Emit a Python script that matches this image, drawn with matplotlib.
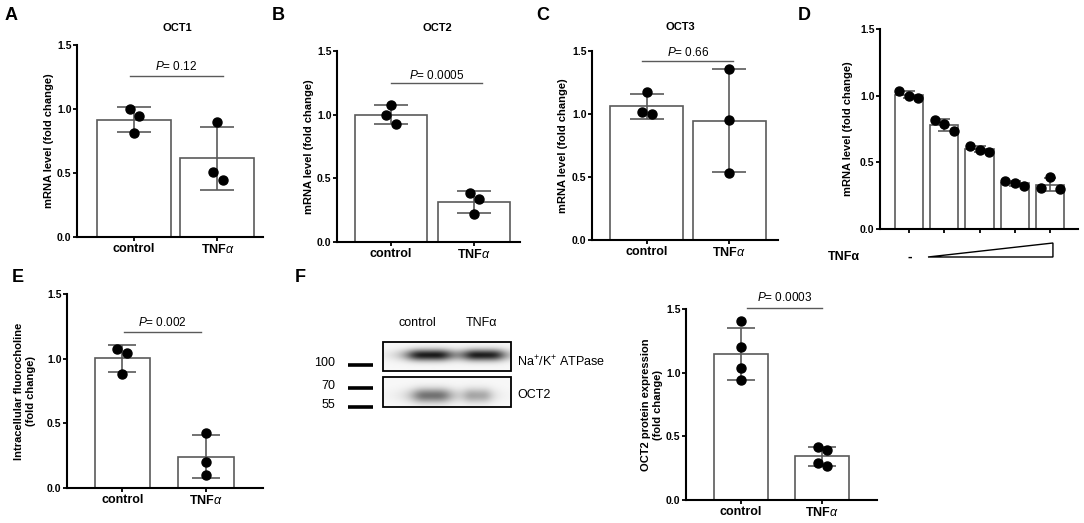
import numpy as np
import matplotlib
matplotlib.use('Agg')
import matplotlib.pyplot as plt
from matplotlib.patches import Rectangle, Polygon
from matplotlib.ticker import FormatStrFormatter

plt.rcParams['font.family'] = ['Liberation Sans', 'DejaVu Sans']
plt.rcParams['mathtext.fontset'] = 'custom'
plt.rcParams['mathtext.rm'] = 'Liberation Sans'
plt.rcParams['mathtext.it'] = 'Liberation Sans:italic'
plt.rcParams['mathtext.bf'] = 'Liberation Sans:bold'

# ---- data ----
groups = ['control', 'TNF$\\alpha$']

oct1_control = [1.00, 0.943, 0.81]
oct1_tnf = [0.898, 0.505, 0.443]
oct2_control = [1.076, 1.00, 0.927]
oct2_tnf = [0.382, 0.34, 0.217]
oct3_control = [1.172, 1.013, 0.997]
oct3_tnf = [1.357, 0.952, 0.534]

# panel D: increasing TNFa doses
dose_values = [
    [1.035, 1.00, 0.985],
    [0.815, 0.79, 0.733],
    [0.623, 0.59, 0.58],
    [0.36, 0.343, 0.323],
    [0.31, 0.39, 0.298],
]

uptake_control = [1.077, 1.046, 0.884]
uptake_tnf = [0.423, 0.201, 0.098]
protein_control = [1.404, 1.20, 1.04, 0.942]
protein_tnf = [0.42, 0.391, 0.289, 0.268]

p_values = {'A': '0.12', 'B': '0.0005', 'C': '0.66', 'E': '0.002', 'F': '0.0003'}

# western blot band intensities (0 = blank, 1 = black)
blot_lanes = ['control', 'TNF\u03b1']
nak_band = [0.85, 0.83]
oct2_band = [0.52, 0.30]
ladder_kda = ['100', '70', '55']

W, H = 1084, 523
EDGE = '#5a5a5a'
fig = plt.figure(figsize=(W / 100, H / 100), dpi=100)


def add_ax(l, t, r, b):
    return fig.add_axes([l / W, 1 - b / H, (r - l) / W, (b - t) / H])


def ftext(x, y, s, **kw):
    fig.text(x / W, 1 - y / H, s, **kw)


def style_axis(ax, rect, ylabel, ylabel_x):
    ax.set_ylim(0, 1.5)
    ax.set_yticks([0, 0.5, 1.0, 1.5])
    ax.yaxis.set_major_formatter(FormatStrFormatter('%.1f'))
    for side in ('top', 'right'):
        ax.spines[side].set_visible(False)
    for side in ('left', 'bottom'):
        ax.spines[side].set_linewidth(1.5)
    ax.tick_params(axis='both', direction='out', length=3, width=1.3, pad=1)
    for lab in ax.get_yticklabels():
        lab.set_fontweight('bold')
        lab.set_fontsize(7.5)
    ax.set_ylabel(ylabel, fontsize=8, fontweight='bold', linespacing=1.3,
                  va='center')
    ax.yaxis.set_label_coords((ylabel_x - rect[0]) / (rect[2] - rect[0]), 0.5)
    ax.set_facecolor('none')


def bar_panel(rect, xlim, vals, width, capsize, jitter, ylabel, ylabel_x):
    ax = add_ax(*rect)
    x = np.arange(len(vals))
    means = [np.mean(v) for v in vals]
    sds = [np.std(v, ddof=1) for v in vals]
    ax.bar(x, means, width, color='white', edgecolor=EDGE, linewidth=1.2, zorder=1)
    ax.errorbar(x, means, yerr=sds, fmt='none', ecolor=EDGE, elinewidth=1.2,
                capsize=capsize, capthick=1.2, zorder=2)
    for i, v in enumerate(vals):
        ax.plot(i + np.array(jitter[i]), v, 'o', color='black', ms=6.5,
                zorder=3, clip_on=False)
    ax.set_xlim(*xlim)
    ax.set_xticks(x)
    style_axis(ax, rect, ylabel, ylabel_x)
    return ax


def two_group(rect, xlim, ctrl, tnf, width, capsize, jitter, ylabel, ylabel_x,
              pkey, pline, ptext_y):
    ax = bar_panel(rect, xlim, [ctrl, tnf], width, capsize, jitter, ylabel, ylabel_x)
    ax.set_xticklabels(groups, fontsize=9, fontweight='bold')
    x0, x1, yl = pline
    ax.plot([x0, x1], [yl, yl], color=EDGE, lw=1.0, clip_on=False)
    ax.text((x0 + x1) / 2, ptext_y, '$P$= ' + p_values[pkey], ha='center',
            va='center', fontsize=8.5, clip_on=False)
    return ax


mrna = 'mRNA level (fold change)'

# A - OCT1
two_group((77, 45, 263, 237), (-0.68, 1.545), oct1_control, oct1_tnf, 0.885, 12,
          [[-0.05, 0.06, 0.0], [0.0, -0.055, 0.065]], mrna, 49,
          'A', (-0.05, 1.07, 1.258), 1.33)
# B - OCT2
two_group((337, 51, 520, 242), (-0.655, 1.56), oct2_control, oct2_tnf, 0.87, 12,
          [[0.0, -0.06, 0.06], [-0.05, 0.06, 0.0]], mrna, 309,
          'B', (0.0, 1.1, 1.246), 1.31)
# C - OCT3
two_group((592, 51, 778, 240), (-0.66, 1.59), oct3_control, oct3_tnf, 0.88, 12,
          [[0.0, -0.06, 0.07], [0.0, 0.0, 0.0]], mrna, 563,
          'C', (-0.05, 1.05, 1.423), 1.49)

# D - dose response
rect_d = (880, 29, 1078, 229)
ax_d = bar_panel(rect_d, (-0.82, 4.79), dose_values, 0.8, 4.5,
                 [[-0.27, 0.0, 0.27]] * len(dose_values), mrna, 848)
ax_d.set_xticklabels([])
ax_d.add_patch(Polygon([[0.54, -0.21], [4.08, -0.105], [4.08, -0.21]], closed=True,
                       facecolor='white', edgecolor='black', lw=1.0, clip_on=False))
ax_d.text(-1.84, -0.21, 'TNF\u03b1', ha='center', va='center', fontsize=9,
          fontweight='bold', clip_on=False)
ax_d.text(0.03, -0.21, '-', ha='center', va='center', fontsize=10,
          fontweight='bold', clip_on=False)

# E - fluorocholine uptake
two_group((67, 294, 263, 488), (-0.66, 1.68), uptake_control, uptake_tnf, 0.66, 10,
          [[-0.06, 0.06, 0.0], [0.0, 0.0, 0.0]],
          'Intracellular fluorocholine\n(fold change)', 25,
          'E', (0.02, 0.94, 1.206), 1.276)

# F - OCT2 protein quantification
two_group((686, 309, 877, 500), (-0.68, 1.68), protein_control, protein_tnf, 0.67, 10,
          [[0.0, 0.0, 0.0, 0.0], [-0.05, 0.06, -0.05, 0.06]],
          'OCT2 protein expression\n(fold change)', 652,
          'F', (0.07, 1.0, 1.509), 1.59)

# F - western blot
ax_b = add_ax(240, 300, 640, 420)
ax_b.set_xlim(240, 640)
ax_b.set_ylim(420, 300)
ax_b.axis('off')


def band_image(intens, centers, halfw, yc, sig, ny):
    xs = np.linspace(0, 1, 256)
    ys = np.linspace(0, 1, ny)[:, None]
    img = np.full((ny, xs.size), 0.03)
    for amp, c, hw in zip(intens, centers, halfw):
        fx = 1.0 / (1.0 + ((xs - c) / hw) ** 4)
        fy = np.exp(-0.5 * ((ys - yc) / sig) ** 2)
        img += amp * fx[None, :] * fy
    return np.clip(img, 0, 1)


boxes = [(342, 371, nak_band, [0.36, 0.79], [0.17, 0.16], 0.45, 0.14),
         (377, 407, oct2_band, [0.38, 0.74], [0.15, 0.11], 0.62, 0.17)]
for top, bot, inten, cen, hw, yc, sig in boxes:
    ax_b.imshow(band_image(inten, cen, hw, yc, sig, 60), extent=(383, 511, bot, top),
                cmap='gray_r', vmin=0, vmax=1, aspect='auto', interpolation='bilinear')
    ax_b.add_patch(Rectangle((383, top), 128, bot - top, fill=False,
                             edgecolor='black', lw=1.3))

for lab, yy in zip(ladder_kda, [365, 388, 407]):
    ax_b.plot([348, 373], [yy, yy], color='black', lw=2.6, solid_capstyle='butt')
    ax_b.text(335, yy - 1.5, lab, ha='right', va='center', fontsize=9)
for lab, xx in zip(blot_lanes, [417, 481]):
    ax_b.text(xx, 323, lab, ha='center', va='center', fontsize=9)
ax_b.text(517, 362, 'Na$^{+}$/K$^{+}$ ATPase', ha='left', va='center', fontsize=9)
ax_b.text(517, 395, 'OCT2', ha='left', va='center', fontsize=9)

# titles and panel letters
for s, x, y in [('OCT1', 177, 28), ('OCT2', 437, 28), ('OCT3', 680, 27)]:
    ftext(x, y, s, ha='center', va='center', fontsize=8, fontweight='bold')
for s, x, y in [('A', 11, 15), ('B', 278, 15), ('C', 543, 15), ('D', 804, 15),
                ('E', 18, 277), ('F', 300, 277)]:
    ftext(x, y, s, ha='center', va='center', fontsize=13, fontweight='bold')

fig.savefig('out.png', dpi=100)
